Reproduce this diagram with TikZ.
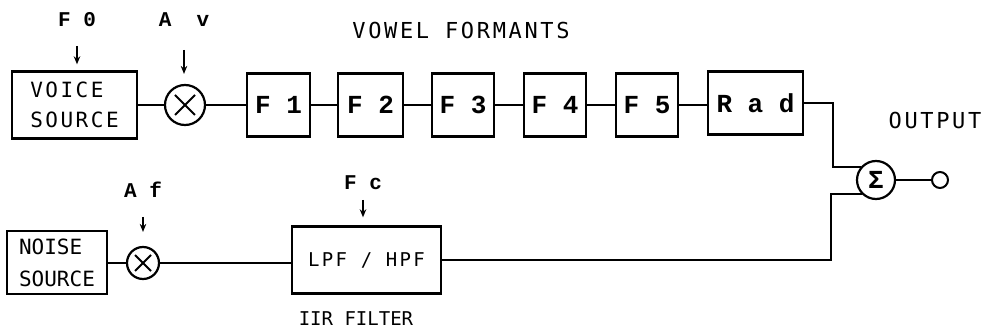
\documentclass[tikz,border=0pt]{standalone}
\usepackage{fontspec}
\usetikzlibrary{arrows.meta,calc}
\newfontfamily\courfont{Liberation Mono}
\newfontfamily\plotfont{DejaVu Sans Mono}

\tikzset{
  wire/.style={line width=2.3pt},
  blk/.style={draw, line width=2.4pt, inner sep=0pt},
  caps/.style={font=\plotfont\fontsize{#1}{30}\selectfont\addfontfeature{LetterSpace=12}},
  cour/.style={font=\courfont\bfseries\fontsize{#1}{#1}\selectfont},
  mult/.style={circle, draw, line width=2.2pt, inner sep=0pt, minimum size=#1,
    path picture={
      \draw[line width=2pt]
        ($(path picture bounding box.center)!0.5!(path picture bounding box.south west)$) --
        ($(path picture bounding box.center)!0.5!(path picture bounding box.north east)$)
        ($(path picture bounding box.center)!0.5!(path picture bounding box.north west)$) --
        ($(path picture bounding box.center)!0.5!(path picture bounding box.south east)$);
    }},
  sig/.style={line width=2pt, -{Stealth[length=8pt,width=6.5pt]}}
}

\begin{document}
\begin{tikzpicture}[x=1pt,y=-1pt]
\useasboundingbox (0,0) rectangle (986,331);

% --- voiced branch ---
\node[blk, minimum width=125pt, minimum height=67pt, align=left, caps=21] (vs) at (74.5,105) {VOICE\\SOURCE};
\node[mult=40pt] (m1) at (185,105) {};
\node[blk, minimum width=63pt, minimum height=63pt, cour=26] (f1) at (278.5,105) {F 1};
\node[blk, minimum width=65pt, minimum height=63pt, cour=26] (f2) at (370.5,105) {F 2};
\node[blk, minimum width=62pt, minimum height=63pt, cour=26] (f3) at (463,105) {F 3};
\node[blk, minimum width=62pt, minimum height=63pt, cour=26] (f4) at (555,105) {F 4};
\node[blk, minimum width=62pt, minimum height=63pt, cour=26] (f5) at (647,105) {F 5};
\node[blk, minimum width=95pt, minimum height=63pt, cour=26] (rad) at (755.5,103) {R a d};

\node[cour=21] (f0) at (77,20) {F 0};
\node[cour=21] (av) at (184,20) {A~~v};
\node[caps=22] (vf) at (461,30) {VOWEL FORMANTS};

\draw[sig, shorten <=26pt, shorten >=6pt] (f0.center) -- (f0 |- vs.north);
\draw[sig, shorten <=30pt, shorten >=10pt] (av.center) -- (av |- m1.north);

\draw[wire] (vs) -- (m1) -- (f1) -- (f2) -- (f3) -- (f4) -- (f5) -- (f5 -| rad.west);

% --- unvoiced branch ---
\node[blk, minimum width=100pt, minimum height=63pt, align=left, font=\plotfont\fontsize{21}{32}\selectfont] (ns) at (57,262.5) {NOISE\\SOURCE};
\node[mult=32pt] (m2) at (143,263) {};
\node[blk, minimum width=149pt, minimum height=67pt, caps=19] (filt) at (366.5,260) {LPF / HPF};

\node[cour=21] (af) at (143,190) {A f};
\node[cour=21] (fc) at (363,183) {F c};
\node[font=\plotfont\fontsize{19}{22}\selectfont, inner sep=1pt] (iir) at (356,319) {IIR FILTER};

\draw[sig, shorten <=27pt, shorten >=14pt] (af.center) -- (af |- m2.north);
\draw[sig, shorten <=17pt, shorten >=8pt] (fc.center) -- (fc |- filt.north);

\draw[wire] (ns.east |- m2) -- (m2) -- (m2 -| filt.west);

% --- summation and output ---
\node[circle, draw, line width=2.2pt, inner sep=0pt, minimum size=38pt, cour=26] (sum) at (876,180) {Σ};
\node[circle, draw, line width=2pt, inner sep=0pt, minimum size=16pt] (out) at (940,180) {};
\node[caps=22] (outl) at (935,120) {OUTPUT};

\draw[wire] (rad.east) -- ++(29,0) |- (sum.140);
\draw[wire] (filt.east) -- ++(389,0) |- (sum.225);
\draw[wire] (sum.east) -- (out.west);
\end{tikzpicture}
\end{document}
